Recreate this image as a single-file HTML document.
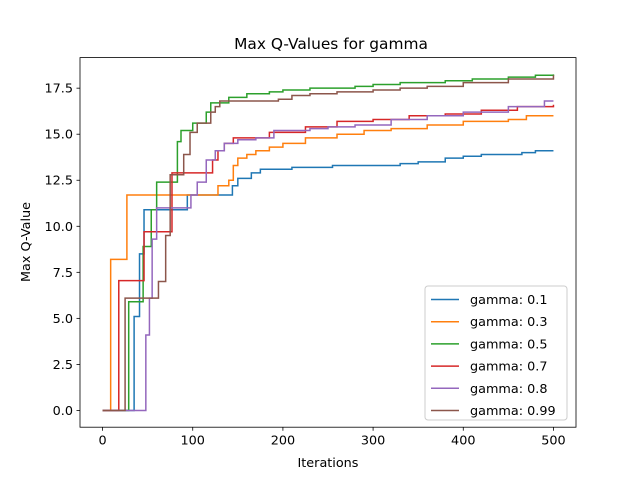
<!DOCTYPE html>
<html><head><meta charset="utf-8"><style>
body{margin:0;background:#fff}
svg{font-family:"DejaVu Sans","Liberation Sans",sans-serif}
</style></head><body>
<svg id="chart" width="640" height="480" xmlns="http://www.w3.org/2000/svg">
<rect width="640" height="480" fill="#fff"/>
<text x="331" y="49" font-size="15.4" text-anchor="middle">Max Q-Values for gamma</text>
<g id="plot"></g>
<text x="328" y="467" font-size="12.8" text-anchor="middle">Iterations</text>
<text transform="translate(30,242) rotate(-90)" font-size="12.8" text-anchor="middle">Max Q-Value</text>
</svg>
<script>
const seriesNames=["gamma: 0.1","gamma: 0.3","gamma: 0.5","gamma: 0.7","gamma: 0.8","gamma: 0.99"];
const colors=["#1f77b4","#ff7f0e","#2ca02c","#d62728","#9467bd","#8c564b"];
const xTicks=[0,100,200,300,400,500];
const yTicks=[0,2.5,5,7.5,10,12.5,15,17.5];
const s01X=[0,35,41,46,94,144,150,165,175,210,255,330,350,380,400,420,465,480,500];
const s01Y=[0,5.1,8.5,10.9,11.7,12.2,12.6,12.9,13.1,13.2,13.3,13.4,13.5,13.7,13.8,13.9,14.0,14.1,14.1];
const s03X=[0,9,27,128,140,145,150,160,170,185,200,225,260,290,320,360,400,450,470,500];
const s03Y=[0,8.2,11.7,12.2,12.5,13.3,13.7,13.9,14.1,14.3,14.5,14.8,15.0,15.2,15.3,15.5,15.7,15.8,16.0,16.0];
const s05X=[0,29,45,54,60,83,87,100,115,120,140,160,185,200,230,280,300,330,380,410,450,480,500];
const s05Y=[0,5.9,8.9,10.9,12.4,14.6,15.2,15.6,16.2,16.7,17.0,17.2,17.3,17.4,17.5,17.6,17.7,17.8,17.9,18.0,18.1,18.2,18.25];
const s07X=[0,18,46,77,122,128,135,145,185,225,260,300,340,380,420,460,500];
const s07Y=[0,7.05,9.7,12.9,13.6,14.1,14.5,14.8,15.1,15.4,15.7,15.8,16.0,16.1,16.3,16.5,16.6];
const s08X=[0,48,52,55,60,98,105,115,125,135,150,170,190,230,250,280,320,360,400,450,490,500];
const s08Y=[0,4.1,6.1,9.3,11.0,11.7,12.4,13.6,14.1,14.5,14.7,14.8,15.2,15.3,15.4,15.5,15.8,16.0,16.2,16.5,16.8,16.8];
const s099X=[0,25,62,70,75,90,97,105,120,125,130,195,210,230,260,300,330,360,400,450,500];
const s099Y=[0,6.1,7.0,9.5,12.8,13.9,15.1,15.6,16.2,16.5,16.8,16.9,17.1,17.2,17.3,17.4,17.5,17.6,17.8,18.0,18.2];
const allX=[s01X,s03X,s05X,s07X,s08X,s099X];
const allY=[s01Y,s03Y,s05Y,s07Y,s08Y,s099Y];

const L=80,R=576,T=57.6,B=427.2;
const xMin=-25,xMax=525,yMin=-0.91,yMax=19.16;
const sx=v=>L+(v-xMin)/(xMax-xMin)*(R-L);
const sy=v=>B-(v-yMin)/(yMax-yMin)*(B-T);
const NS="http://www.w3.org/2000/svg";
const g=document.getElementById('plot');
function mk(t,a){const e=document.createElementNS(NS,t);for(const k in a)e.setAttribute(k,a[k]);g.appendChild(e);return e;}

xTicks.forEach(v=>{
  const l=mk('line',{x1:sx(v),x2:sx(v),y1:B,y2:B+3.5,stroke:'#000','stroke-width':0.8});
  
  
  const t=mk('text',{x:sx(v),y:B+17.5,'font-size':12.8,'text-anchor':'middle'});t.textContent=v;
  
  
});
yTicks.forEach(v=>{
  const l=mk('line',{x1:L-3.5,x2:L,y1:sy(v),y2:sy(v),stroke:'#000','stroke-width':0.8});
  
  
  const t=mk('text',{x:L-7,y:sy(v)+4.5,'font-size':12.8,'text-anchor':'end'});t.textContent=v.toFixed(1);
  
  
});

allX.forEach((xs,i)=>{
  let d='M'+sx(xs[0])+','+sy(allY[i][0]);
  for(let j=1;j<xs.length;j++){d+=' H'+sx(xs[j])+' V'+sy(allY[i][j]);}
  const p=mk('path',{d:d,fill:'none',stroke:colors[i],'stroke-width':1.5,'stroke-linejoin':'miter'});
  
  
});

const frame=mk('rect',{x:L,y:T,width:R-L,height:B-T,fill:'none',stroke:'#000','stroke-width':0.8});



const lg=mk('rect',{x:425,y:286,width:142,height:134,rx:3,fill:'#fff','fill-opacity':0.8,stroke:'#ccc','stroke-width':1});


seriesNames.forEach((n,i)=>{
  const y=299.5+i*22.2;
  const l=mk('line',{x1:431,x2:459,y1:y,y2:y,stroke:colors[i],'stroke-width':1.5});
  
  
  const t=mk('text',{x:470,y:y+4.5,'font-size':12.8});t.textContent=n;
  
  
});
</script>
</body></html>
